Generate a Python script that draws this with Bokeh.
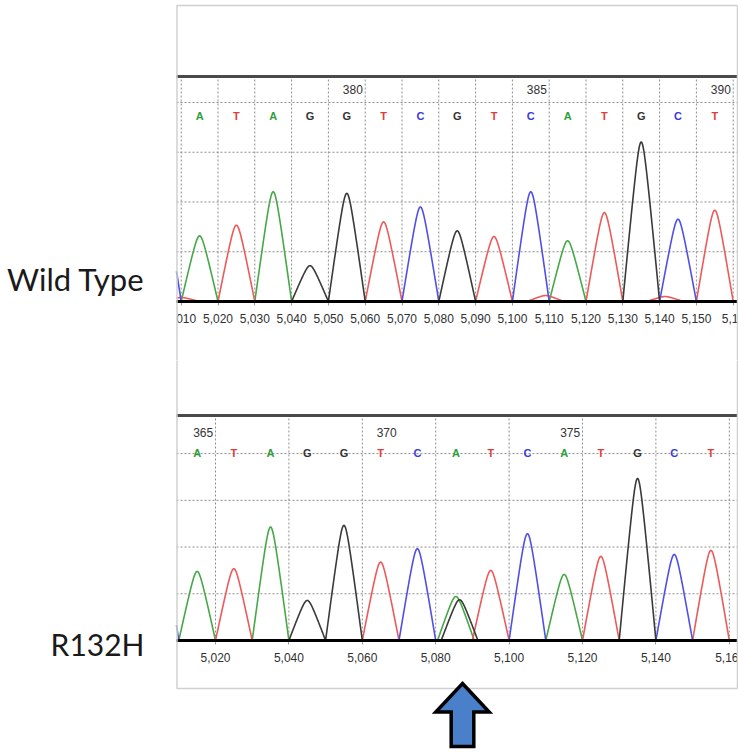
import numpy as np
from bokeh.plotting import figure
from bokeh.models import Range1d, FixedTicker, Label, NumeralTickFormatter
from bokeh.layouts import column
from bokeh.embed import file_html
from bokeh.resources import INLINE
from bokeh.core.properties import value

# ---------------- data ----------------
# Wild type trace
wt_bases = ["A", "T", "A", "G", "G", "T", "C", "G", "T", "C", "A", "T", "G", "C", "T"]
wt_pos = [5015, 5025, 5035, 5045, 5055, 5065, 5075, 5085, 5095, 5105, 5115, 5125, 5135, 5145, 5155]
wt_heights = [660, 767, 1103, 360, 1087, 800, 950, 710, 653, 1103, 610, 893, 1603, 827, 917]
wt_extra_bases = ["C", "T", "T", "T"]
wt_extra_pos = [5005, 5010, 5109, 5141.5]
wt_extra_heights = [1000, 40, 60, 50]
wt_numbers = ["380", "385", "390"]
wt_number_pos = [5055, 5105, 5155]
wt_ticks = [5010, 5020, 5030, 5040, 5050, 5060, 5070, 5080, 5090, 5100,
            5110, 5120, 5130, 5140, 5150, 5160]
wt_cut_label = {5160: "5,1"}        # label cut by the right edge of the picture

# R132H trace
mut_bases = ["A", "T", "A", "G", "G", "T", "C", "A", "T", "C", "A", "T", "G", "C", "T"]
mut_pos = [5015, 5025, 5035, 5045, 5055, 5065, 5075, 5085.5, 5095, 5105, 5115, 5125, 5135, 5145, 5155]
mut_heights = [739, 768, 1214, 429, 1232, 839, 982, 471, 750, 1143, 707, 900, 1734, 921, 964]
mut_extra_bases = ["C", "G"]
mut_extra_pos = [5005, 5086.5]
mut_extra_heights = [1100, 436]
mut_numbers = ["365", "370", "375"]
mut_number_pos = [5015, 5065, 5115]
mut_ticks = [5020, 5040, 5060, 5080, 5100, 5120, 5140, 5160]
mut_cut_label = {5160: "5,16"}
mutation_pos = 5087.3

grid_levels = [500, 1000, 1500, 2000]
labels = ["Wild Type", "R132H"]

# ---------------- styling / layout (pixels) ----------------
W = 738
BOX_L, BOX_R = 176, 737
BASE_COLORS = {"A": "#46a846", "T": "#ec5a5a", "C": "#5050e6", "G": "#3a3a3a"}
LETTER_COLORS = {"A": "#2f9e3a", "T": "#e23b3b", "C": "#3a3ad8", "G": "#333333"}
TICK_FONT = "Liberation Sans"
BOX = "#d0d0d0"
GRID = "#8e8e8e"


def peak_shape(d):
    a = 1.0
    u = np.sqrt(d * d + a * a) - a
    w = np.sqrt(25.0 + a * a) - a
    return np.clip(1.0 - u / w, 0.0, None)


def build(canvas_top, height, baseline, upp, anchor_val, anchor_px, ppu, ticks, cut,
          bases, pos, heights, ebases, epos, eheights, numbers, number_pos,
          thick_px, num_px, letter_px, label, label_px, label_size,
          box_top_px, box_bot_px):
    def xd(px):
        return anchor_val + (px - anchor_px) / ppu

    def yd(py):
        return (baseline - py) * upp

    x0, x1 = xd(BOX_L), xd(BOX_R)
    p = figure(width=W, height=height, x_range=Range1d(xd(0), xd(W)),
               y_range=Range1d(yd(canvas_top + height), yd(canvas_top)),
               output_backend="svg", toolbar_location=None, y_axis_location=None,
               min_border=0)
    p.min_border_left = p.min_border_right = 0
    p.min_border_top = p.min_border_bottom = 0
    p.outline_line_color = None
    p.background_fill_color = "white"
    p.border_fill_color = "white"
    p.xgrid.visible = False
    p.ygrid.visible = False

    ax = p.xaxis[0]
    ax.fixed_location = 0
    ax.bounds = (x0, x1 + 4)
    ax.level = "underlay"
    ax.ticker = FixedTicker(ticks=ticks)
    ax.formatter = NumeralTickFormatter(format="0,0")
    ax.major_label_overrides = cut
    ax.axis_line_color = None
    ax.major_tick_in = 0
    ax.major_tick_out = 4
    ax.major_tick_line_color = "#9a9a9a"
    ax.minor_tick_line_color = None
    ax.major_label_text_font = TICK_FONT
    ax.major_label_text_font_size = "12px"
    ax.major_label_text_color = "#303030"
    ax.major_label_standoff = 8

    # dotted grid inside the box
    vx = [t for t in ticks if x0 < t < x1]
    p.segment(x0=vx, y0=0, x1=vx, y1=yd(thick_px), line_color=GRID,
              line_dash="2 2", line_width=1)
    p.segment(x0=x0, y0=grid_levels, x1=x1, y1=grid_levels, line_color=GRID,
              line_dash="2 2", line_width=1)
    # heavy line under the header
    p.segment(x0=x0, y0=yd(thick_px), x1=x1, y1=yd(thick_px),
              line_color="#4a4a4a", line_width=3)

    # traces
    xs = np.arange(x0, x1, 0.1)
    allb = list(bases) + list(ebases)
    allp = list(pos) + list(epos)
    allh = list(heights) + list(eheights)
    for b in "ATCG":
        y = np.zeros_like(xs)
        for bb, pp, hh in zip(allb, allp, allh):
            if bb == b:
                y += hh * peak_shape(xs - pp)
        p.line(xs, y, line_color=BASE_COLORS[b], line_width=1.6)

    # baseline
    p.segment(x0=x0, y0=0, x1=x1, y1=0, line_color="black", line_width=3)

    # base calls and numbering
    p.text(x=pos, y=[yd(letter_px)] * len(pos), text=bases,
           text_color=[LETTER_COLORS[b] for b in bases],
           text_font=value("Liberation Sans"), text_font_size=value("11px"),
           text_font_style="bold", text_align="center", text_baseline="middle")
    p.text(x=number_pos, y=[yd(num_px)] * len(number_pos), text=numbers,
           text_color="#333333", text_font=value(TICK_FONT), text_font_size=value("12px"),
           text_align="center", text_baseline="middle", x_offset=6)

    # hide tick-label parts left of the box
    p.quad(left=xd(0), right=x0, top=yd(baseline + 3), bottom=yd(baseline + 40),
           fill_color="white", line_color=None)

    # box
    p.segment(x0=[x0 + 0.5 / ppu, x1], y0=yd(box_top_px), x1=[x0 + 0.5 / ppu, x1],
              y1=yd(box_bot_px), line_color=BOX, line_width=1.5)

    p.add_layout(Label(x=xd(144), y=yd(label_px), text=label,
                       text_align="right", text_baseline="alphabetic",
                       text_font="Lato", text_font_size=label_size, text_color="#1a1a1a"))
    return p, xd, yd, x0, x1


top, txd, tyd, tx0, tx1 = build(0, 360, 301, 10.05, 5010, 180.7, 3.68, wt_ticks, wt_cut_label,
                                wt_bases, wt_pos, wt_heights, wt_extra_bases, wt_extra_pos,
                                wt_extra_heights, wt_numbers, wt_number_pos,
                                76, 89, 115, labels[0], 278, "31px", 5, 362)
top.segment(x0=tx0, y0=tyd(5), x1=tx1, y1=tyd(5), line_color=BOX, line_width=1.5)

bot, bxd, byd, bx0, bx1 = build(360, 392, 640, 10.7, 5020, 215, 3.67, mut_ticks, mut_cut_label,
                                mut_bases, mut_pos, mut_heights, mut_extra_bases, mut_extra_pos,
                                mut_extra_heights, mut_numbers, mut_number_pos,
                                415, 431.7, 452, labels[1], 643, "30px", 358, 688)
bot.segment(x0=bx0, y0=byd(688), x1=bx1, y1=byd(688), line_color=BOX, line_width=1.5)

# arrow marking the mutation (head/shaft sizes in pixels converted to data units)
hw, sw = 26.7 / 3.67, 11.3 / 3.67
arrow_x = [mutation_pos, mutation_pos + hw, mutation_pos + sw, mutation_pos + sw,
           mutation_pos - sw, mutation_pos - sw, mutation_pos - hw]
arrow_y = [byd(683), byd(711.5), byd(711.5), byd(746), byd(746), byd(711.5), byd(711.5)]
bot.patch(arrow_x, arrow_y, fill_color="#4a7fc9", line_color="black",
          line_width=3.5, line_join="miter")

layout = column(top, bot, spacing=0)
open("out.html", "w").write(file_html(layout, INLINE))
